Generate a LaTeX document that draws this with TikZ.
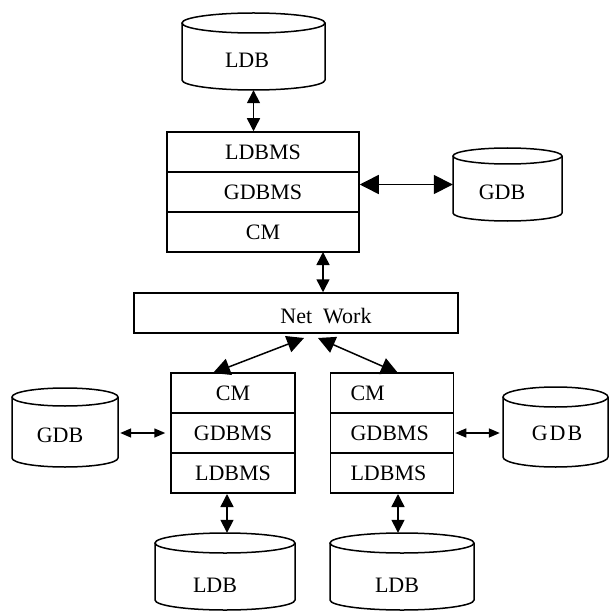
\documentclass[tikz,border=0pt]{standalone}
\usepackage{fontspec}
\setmainfont{Liberation Serif}
\usetikzlibrary{arrows.meta,calc}
\tikzset{
  ln/.style={line width=1.5pt},
  rowbox/.style={draw,ln,inner sep=0pt,minimum height=40pt,font=\fontsize{22}{25}\selectfont},
  txt/.style={inner sep=0pt,font=\fontsize{22}{25}\selectfont},
  bigarr/.style={ln,{Triangle[length=19pt,width=19pt]}-{Triangle[length=19pt,width=19pt]}},
  netarr/.style={ln,{Triangle[length=17pt,width=17pt]}-{Triangle[length=17pt,width=17pt]}},
  medarr/.style={ln,{Triangle[length=13pt,width=13pt]}-{Triangle[length=13pt,width=13pt]}},
  smallarr/.style={ln,{Triangle[length=11pt,width=9pt]}-{Triangle[length=11pt,width=9pt]}}
}
\newcommand\mycyl[9]{%
  \draw[ln] (#2,#4) -- (#2,#6) arc[start angle=180,end angle=360,x radius={(#3-#2)/2*1pt},y radius=#5pt] -- (#3,#4);
  \draw[ln] ({(#2+#3)/2},#4) ellipse[x radius={(#3-#2)/2*1pt},y radius=#5pt];
  \node[inner sep=0pt,minimum width={(#3-#2)*1pt},minimum height={(#6-#4+2*#5)*1pt}] (#1) at ({(#2+#3)/2},{(#4+#6)/2}) {};
  \node[txt] at (#7,#8) {#9};
}
\begin{document}
\begin{tikzpicture}[x=1pt,y=-1pt]
\useasboundingbox (0,0) rectangle (610,612);
% cylinders
\mycyl{ldbT}{182}{325}{23}{10}{80}{247}{60}{LDB}
\mycyl{gdbT}{453}{562}{156}{8}{213}{502}{192}{GDB}
\mycyl{gdbL}{12}{118}{397}{9}{458}{60}{435}{GDB}
\mycyl{gdbR}{503}{608}{397}{10}{457}{557}{433}{G\kern2pt D\kern2pt B}
\mycyl{ldbBL}{155}{295}{543}{10}{600}{215}{585}{LDB}
\mycyl{ldbBR}{330}{474}{543}{10}{600}{397}{585}{LDB}
% top stack
\node[rowbox,minimum width=192pt] (t1) at (263,152) {LDBMS};
\node[rowbox,minimum width=192pt] (t2) at (263,192) {GDBMS};
\node[rowbox,minimum width=192pt] (t3) at (263,232) {CM};
% network
\node[draw,ln,inner sep=0pt,minimum width=324pt,minimum height=40pt] (net) at (296,313) {};
\node[txt] at (326,316) {Net\enspace Work};
% lower left stack
\node[rowbox,minimum width=124pt] (l1) at (233,393) {CM};
\node[rowbox,minimum width=124pt] (l2) at (233,433) {GDBMS};
\node[rowbox,minimum width=124pt] (l3) at (233,473) {LDBMS};
% lower right stack
\node[rowbox,text width=83pt,inner xsep=20pt,align=left] (r1) at (392,393) {CM};
\node[rowbox,text width=83pt,inner xsep=20pt,align=left] (r2) at (392,433) {GDBMS};
\node[rowbox,text width=83pt,inner xsep=20pt,align=left] (r3) at (392,473) {LDBMS};
% connectors
\draw[medarr] (ldbT.south) -- (ldbT.south |- t1.north);
\draw[bigarr] (gdbT.west -| t2.east) -- (gdbT.west);
\coordinate (tn) at (323,252);
\draw[medarr] (tn) -- (tn |- net.north);
\coordinate (n1) at (304,338);
\coordinate (n2) at (318,338);
\coordinate (b1) at (213,373);
\coordinate (b2) at (398,373);
\draw[netarr] (n1) -- (b1);
\draw[netarr] (n2) -- (b2);
\draw[smallarr,shorten >=5pt,shorten <=2pt] (gdbL.east |- l2.west) -- (l2.west);
\draw[smallarr,shorten <=1pt,shorten >=3pt] (r2.east) -- (r2.east -| gdbR.west);
\draw[medarr] (ldbBL.north -| 227,0) -- (227,494);
\draw[medarr] (ldbBR.north -| 398,0) -- (398,494);
\end{tikzpicture}
\end{document}
